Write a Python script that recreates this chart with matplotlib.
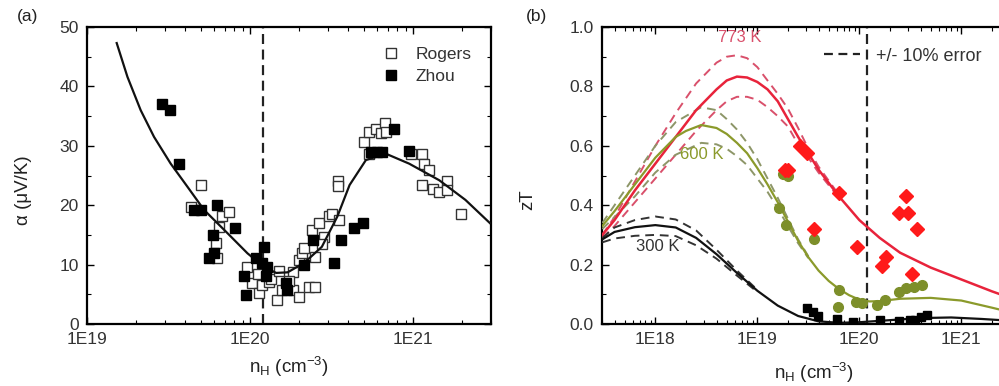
import numpy as np
import matplotlib.pyplot as plt
from matplotlib.ticker import FixedLocator, FuncFormatter, LogLocator, MultipleLocator, NullFormatter

plt.rcParams['font.family'] = ['Liberation Sans', 'DejaVu Sans']
plt.rcParams['mathtext.fontset'] = 'custom'
plt.rcParams['mathtext.rm'] = 'Liberation Sans'
plt.rcParams['mathtext.it'] = 'Liberation Sans'

# ---------------- panel (a): Seebeck vs carrier density ----------------
# x values are log10(n_H / cm^-3)
a_curve_logn = [19.182, 19.248, 19.329, 19.411, 19.513, 19.616, 19.718, 19.861, 19.984,
                20.086, 20.16, 20.23, 20.30, 20.36, 20.44, 20.535, 20.61, 20.71, 20.83,
                20.975, 21.16, 21.32, 21.47]
a_curve_alpha = [47.3, 41.6, 36.0, 31.5, 27.0, 23.1, 19.2, 15.3, 11.9,
                 9.6, 8.6, 8.7, 9.8, 11.0, 13.0, 18.1, 23.4, 27.6, 28.7,
                 27.0, 24.2, 20.9, 17.0]

rogers_logn = [19.697, 19.636, 19.83, 19.871, 19.81, 19.79, 19.80, 19.983, 20.014, 20.055,
               20.076, 20.117, 20.167, 20.198, 20.26, 20.30, 20.362, 20.40, 20.26, 20.30,
               20.32, 20.40, 20.38, 20.42, 20.454, 20.485, 20.505, 20.546, 20.536, 20.54,
               20.70, 20.73, 20.77, 20.80, 20.83, 20.835, 20.73, 20.985, 21.057, 21.067,
               21.098, 21.057, 21.119, 21.16, 21.21, 21.21, 21.293, 20.05, 20.13, 20.24,
               20.18, 20.33, 20.44]
rogers_alpha = [23.4, 19.7, 18.1, 18.9, 16.4, 13.6, 11.1, 9.6, 6.9, 5.2,
                6.6, 7.1, 4.0, 5.7, 5.7, 4.6, 6.3, 6.3, 8.8, 10.8,
                11.9, 11.3, 15.8, 17.0, 14.7, 18.1, 18.6, 17.5, 24.0, 23.2,
                30.7, 32.4, 32.9, 32.1, 33.8, 32.4, 28.7, 28.7, 28.7, 27.0,
                26.0, 23.4, 22.8, 22.3, 24.0, 22.5, 18.6, 8.5, 7.5, 7.2,
                9.0, 12.8, 13.5]

zhou_logn = [19.462, 19.51, 19.564, 19.656, 19.697, 19.795, 19.77, 19.75, 19.78, 19.91,
             19.963, 19.973, 20.035, 20.086, 20.076, 20.106, 20.096, 20.219, 20.229, 20.33,
             20.383, 20.515, 20.556, 20.64, 20.69, 20.74, 20.78, 20.81, 20.883, 20.975]
zhou_alpha = [37.0, 36.0, 27.0, 19.2, 19.2, 20.0, 15.0, 11.1, 11.9, 16.1,
              8.0, 4.9, 11.1, 13.0, 10.2, 9.6, 8.0, 6.9, 5.7, 10.0,
              14.1, 10.2, 14.1, 16.1, 17.0, 29.0, 29.0, 29.0, 32.9, 29.2]

n_cut = 1.2e20

# ---------------- panel (b): zT vs carrier density ----------------
red_logn = [17.48, 17.6, 17.8, 18.0, 18.2, 18.4, 18.6, 18.7, 18.8, 18.9, 19.0, 19.1, 19.2,
            19.3, 19.4, 19.6, 19.8, 20.0, 20.2, 20.4, 20.7, 21.0, 21.3, 21.48]
red_zt = [0.30, 0.35, 0.45, 0.54, 0.63, 0.72, 0.79, 0.82, 0.833, 0.83, 0.815, 0.79, 0.75,
          0.69, 0.63, 0.52, 0.43, 0.35, 0.29, 0.24, 0.19, 0.15, 0.11, 0.088]
red_hi_logn = [17.48, 17.6, 17.8, 18.0, 18.2, 18.4, 18.6, 18.7, 18.8, 18.9, 19.0, 19.1,
               19.2, 19.3, 19.4, 19.5, 19.6, 19.8]
red_hi_zt = [0.30, 0.36, 0.48, 0.60, 0.71, 0.81, 0.88, 0.90, 0.905, 0.895, 0.865, 0.82,
             0.775, 0.725, 0.66, 0.59, 0.53, 0.435]
red_lo_zt = [0.29, 0.33, 0.41, 0.49, 0.57, 0.65, 0.72, 0.75, 0.765, 0.765, 0.755, 0.73,
             0.70, 0.665, 0.605, 0.56, 0.51, 0.425]

grn_logn = [17.48, 17.6, 17.8, 18.0, 18.2, 18.3, 18.45, 18.6, 18.7, 18.8, 18.9, 19.0, 19.1,
            19.2, 19.3, 19.4, 19.5, 19.6, 19.7, 19.8, 19.9, 20.0, 20.1, 20.2, 20.4, 20.7,
            21.0, 21.3, 21.48]
grn_zt = [0.33, 0.38, 0.47, 0.56, 0.63, 0.65, 0.67, 0.66, 0.64, 0.61, 0.575, 0.525, 0.47,
          0.41, 0.345, 0.28, 0.225, 0.18, 0.145, 0.118, 0.097, 0.082, 0.076, 0.077, 0.085,
          0.088, 0.079, 0.055, 0.04]
grn_hi_logn = [17.48, 17.6, 17.8, 18.0, 18.2, 18.45, 18.6, 18.7, 18.8, 18.9, 19.0, 19.1,
               19.2, 19.3, 19.4, 19.5]
grn_hi_zt = [0.34, 0.40, 0.50, 0.60, 0.68, 0.73, 0.72, 0.69, 0.655, 0.61, 0.555, 0.49,
             0.425, 0.355, 0.285, 0.228]
grn_lo_zt = [0.32, 0.36, 0.43, 0.51, 0.57, 0.61, 0.605, 0.59, 0.565, 0.535, 0.49, 0.445,
             0.39, 0.33, 0.272, 0.222]

blk_logn = [17.48, 17.6, 17.8, 18.0, 18.2, 18.4, 18.6, 18.8, 19.0, 19.2, 19.4, 19.6, 19.8,
            20.0, 20.3, 20.6, 20.9, 21.2, 21.48]
blk_zt = [0.285, 0.31, 0.326, 0.333, 0.325, 0.29, 0.235, 0.172, 0.112, 0.062, 0.027, 0.009,
          0.004, 0.006, 0.013, 0.02, 0.022, 0.017, 0.011]
blk_hi_logn = [17.48, 17.6, 17.8, 18.0, 18.2, 18.4, 18.6, 18.8, 19.0]
blk_hi_zt = [0.29, 0.325, 0.35, 0.362, 0.352, 0.315, 0.25, 0.18, 0.115]
blk_lo_zt = [0.275, 0.288, 0.297, 0.30, 0.296, 0.265, 0.22, 0.163, 0.108]

red_pts_logn = [19.42, 19.49, 19.27, 19.30, 19.80, 19.56, 19.98, 20.26, 20.22, 20.46, 20.39,
                20.48, 20.565, 20.52]
red_pts_zt = [0.60, 0.575, 0.518, 0.52, 0.44, 0.32, 0.26, 0.227, 0.196, 0.432, 0.373,
              0.373, 0.32, 0.17]
grn_pts_logn = [19.25, 19.30, 19.21, 19.28, 19.555, 19.80, 19.79, 19.97, 20.03, 20.17,
                20.25, 20.385, 20.46, 20.54, 20.61]
grn_pts_zt = [0.505, 0.50, 0.39, 0.335, 0.285, 0.114, 0.058, 0.075, 0.07, 0.064,
              0.081, 0.109, 0.12, 0.126, 0.131]
blk_pts_logn = [19.49, 19.55, 19.59, 19.78, 19.94, 20.2, 20.385, 20.5, 20.55, 20.6, 20.66]
blk_pts_zt = [0.055, 0.04, 0.028, 0.016, 0.008, 0.013, 0.01, 0.012, 0.015, 0.025, 0.03]

C_RED = '#e8233b'
C_RED_D = '#d9506b'
C_GRN = '#8b9a2b'
C_GRN_D = '#8d9668'


def exp_fmt(v, pos):
    return '1E%d' % round(np.log10(v))


def style_axis(ax):
    ax.set_xscale('log')
    ax.tick_params(which='both', direction='in', top=True, right=True,
                   labelsize=12.5, labelcolor='#333333', pad=6)
    ax.tick_params(which='major', length=5, width=1)
    ax.tick_params(which='minor', length=3, width=0.8)
    for s in ax.spines.values():
        s.set_linewidth(1.6)
    ax.xaxis.set_major_formatter(FuncFormatter(exp_fmt))
    ax.xaxis.set_minor_locator(LogLocator(base=10, subs=np.arange(2, 10)))
    ax.xaxis.set_minor_formatter(NullFormatter())


fig = plt.figure(figsize=(9.99, 3.86), dpi=100)

# ---------- (a) ----------
ax1 = fig.add_axes([0.0871, 0.1606, 0.4044, 0.7694])
style_axis(ax1)
ax1.plot(10 ** np.array(a_curve_logn), a_curve_alpha, color='#111111', lw=1.6, zorder=4)
ax1.plot(10 ** np.array(rogers_logn), rogers_alpha, 's', ms=7, mfc='white', mec='#333333',
         mew=1.0, ls='none', label='Rogers', zorder=3)
ax1.plot(10 ** np.array(zhou_logn), zhou_alpha, 's', ms=7, mfc='black', mec='black',
         ls='none', label='Zhou', zorder=5)
ax1.axvline(n_cut, color='#222222', lw=1.6, ls=(0, (4.5, 2.5)), zorder=2)
ax1.set_xlim(1e19, 3e21)
ax1.set_ylim(0, 50)
ax1.xaxis.set_major_locator(FixedLocator([1e19, 1e20, 1e21]))
ax1.yaxis.set_major_locator(MultipleLocator(10))
ax1.yaxis.set_minor_locator(MultipleLocator(5))
ax1.set_ylabel('α (μV/K)', fontsize=13.5, color='#222222')
ax1.yaxis.set_label_coords(-0.135, 0.45)
ax1.set_xlabel(r'n$_\mathregular{H}$ (cm$^\mathregular{-3}$)', fontsize=13.5, color='#222222')
ax1.xaxis.set_label_coords(0.5, -0.105)
ax1.legend(loc='upper right', bbox_to_anchor=(0.99, 0.985), frameon=False, fontsize=12.5,
           handletextpad=0.9, labelspacing=0.4, handlelength=1.0, labelcolor='#333333')
fig.text(0.028, 0.958, '(a)', fontsize=12.5, ha='center', va='center', color='#222222')

# ---------- (b) ----------
ax2 = fig.add_axes([0.6026, 0.1606, 0.4084, 0.7694])
style_axis(ax2)
dash = (0, (4.5, 3))
ax2.plot(10 ** np.array(red_hi_logn), red_hi_zt, color=C_RED_D, lw=1.4, ls=dash, zorder=3)
ax2.plot(10 ** np.array(red_hi_logn), red_lo_zt, color=C_RED_D, lw=1.4, ls=dash, zorder=3)
ax2.plot(10 ** np.array(grn_hi_logn), grn_hi_zt, color=C_GRN_D, lw=1.4, ls=dash, zorder=3)
ax2.plot(10 ** np.array(grn_hi_logn), grn_lo_zt, color=C_GRN_D, lw=1.4, ls=dash, zorder=3)
ax2.plot(10 ** np.array(blk_hi_logn), blk_hi_zt, color='#333333', lw=1.4, ls=dash, zorder=3)
ax2.plot(10 ** np.array(blk_hi_logn), blk_lo_zt, color='#333333', lw=1.4, ls=dash, zorder=3)
ax2.plot(10 ** np.array(red_logn), red_zt, color=C_RED, lw=1.8, zorder=4)
ax2.plot(10 ** np.array(grn_logn), grn_zt, color=C_GRN, lw=1.6, zorder=4)
ax2.plot(10 ** np.array(blk_logn), blk_zt, color='#111111', lw=1.6, zorder=4)
ax2.plot(10 ** np.array(blk_pts_logn), blk_pts_zt, 's', ms=6, color='black', ls='none', zorder=5)
ax2.plot(10 ** np.array(grn_pts_logn), grn_pts_zt, 'o', ms=7, color='#7d8f2a', ls='none', zorder=5)
ax2.plot(10 ** np.array(red_pts_logn), red_pts_zt, 'D', ms=7, color='#ff1a1a', ls='none', zorder=6)
ax2.axvline(n_cut, color='#222222', lw=1.6, ls=(0, (4.5, 2.5)), zorder=2)
ax2.plot([], [], color='#222222', lw=1.6, ls=(0, (4, 2.5)), label='+/- 10% error')
ax2.set_xlim(3e17, 3e21)
ax2.set_ylim(0, 1.0)
ax2.xaxis.set_major_locator(FixedLocator([1e18, 1e19, 1e20, 1e21]))
ax2.yaxis.set_major_locator(MultipleLocator(0.2))
ax2.yaxis.set_minor_locator(MultipleLocator(0.1))
ax2.yaxis.set_major_formatter(FuncFormatter(lambda v, p: '%.1f' % v))
ax2.set_ylabel('zT', fontsize=13.5, color='#222222')
ax2.yaxis.set_label_coords(-0.16, 0.42)
ax2.set_xlabel(r'n$_\mathregular{H}$ (cm$^\mathregular{-3}$)', fontsize=13.5, color='#222222')
ax2.xaxis.set_label_coords(0.52, -0.125)
ax2.legend(loc='upper right', bbox_to_anchor=(0.97, 0.985), frameon=False, fontsize=13,
           handlelength=2.0, handletextpad=0.9, labelcolor='#333333')
ax2.text(10 ** 18.83, 0.965, '773 K', color=C_RED_D, fontsize=12, ha='center', va='center')
ax2.text(10 ** 18.46, 0.57, '600 K', color=C_GRN, fontsize=12, ha='center', va='center')
ax2.text(10 ** 18.02, 0.26, '300 K', color='#333333', fontsize=12, ha='center', va='center')
fig.text(0.5375, 0.958, '(b)', fontsize=12.5, ha='center', va='center', color='#222222')

fig.savefig('out.png', dpi=100)
